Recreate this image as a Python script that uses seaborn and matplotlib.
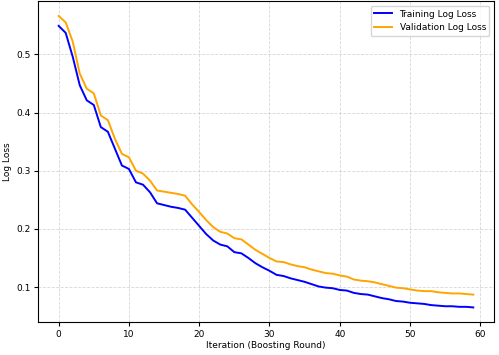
import matplotlib
matplotlib.use("Agg")
import matplotlib.pyplot as plt
import seaborn as sns
import pandas as pd

# Log loss per boosting round
iterations = list(range(60))
train_loss = [
    0.549, 0.537, 0.496, 0.447, 0.421, 0.413, 0.375, 0.367, 0.338, 0.309,
    0.303, 0.280, 0.276, 0.263, 0.244, 0.241, 0.238, 0.236, 0.233, 0.219,
    0.205, 0.191, 0.180, 0.173, 0.170, 0.160, 0.158, 0.150, 0.141, 0.134,
    0.128, 0.121, 0.119, 0.115, 0.112, 0.109, 0.105, 0.101, 0.099, 0.098,
    0.095, 0.094, 0.090, 0.088, 0.087, 0.084, 0.081, 0.079, 0.076, 0.075,
    0.073, 0.072, 0.071, 0.069, 0.068, 0.067, 0.067, 0.066, 0.066, 0.065,
]
valid_loss = [
    0.566, 0.555, 0.522, 0.467, 0.441, 0.433, 0.395, 0.387, 0.355, 0.329,
    0.323, 0.300, 0.295, 0.283, 0.266, 0.264, 0.262, 0.260, 0.257, 0.242,
    0.229, 0.215, 0.203, 0.195, 0.192, 0.184, 0.182, 0.173, 0.164, 0.157,
    0.150, 0.144, 0.143, 0.139, 0.136, 0.134, 0.130, 0.127, 0.124, 0.123,
    0.120, 0.118, 0.113, 0.111, 0.110, 0.108, 0.105, 0.102, 0.099, 0.098,
    0.096, 0.094, 0.093, 0.093, 0.091, 0.090, 0.089, 0.089, 0.088, 0.087,
]

df = pd.DataFrame({
    "iteration": iterations * 2,
    "loss": train_loss + valid_loss,
    "set": ["Training Log Loss"] * 60 + ["Validation Log Loss"] * 60,
})

fig, ax = plt.subplots(figsize=(4.99, 3.55), dpi=100)
fig.subplots_adjust(left=0.076, right=0.99, top=0.996, bottom=0.093)

sns.lineplot(data=df, x="iteration", y="loss", hue="set",
             palette={"Training Log Loss": "blue", "Validation Log Loss": "orange"},
             linewidth=1.4, ax=ax)

ax.set_xlabel("Iteration (Boosting Round)", fontsize=6.5, labelpad=2)
ax.set_ylabel("Log Loss", fontsize=6.5, labelpad=3)
ax.tick_params(labelsize=6.5, length=3, pad=2.5)
ax.set_xticks([0, 10, 20, 30, 40, 50, 60])
ax.set_yticks([0.1, 0.2, 0.3, 0.4, 0.5])
ax.grid(True, linestyle="--", linewidth=0.6, alpha=0.5)
ax.legend(title=None, fontsize=6.5, loc="upper right")

fig.savefig("out.png", dpi=100)
